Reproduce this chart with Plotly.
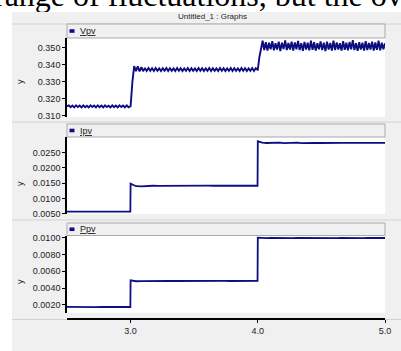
import plotly.graph_objects as go

W, H = 401, 351

# ---------------- data ----------------
caption_text = "range of fluctuations, but the overall"
chart_title = "Untitled_1 : Graphs"
series_names = ["Vpv", "Ipv", "Ppv"]
axis_title = "y"

x_range = [2.5, 5.0]
x_tick_vals = [3.0, 4.0, 5.0]
x_tick_text = ["3.0", "4.0", "5.0"]

# time span covered by each sampled segment
segment_bounds = [[2.5, 2.998], [3.0, 3.998], [4.0, 5.0]]

vpv_seg1 = [0.3156, 0.3162, 0.3151, 0.3161, 0.3150, 0.3162, 0.3152, 0.3161, 0.3150, 0.3162,
            0.3151, 0.3160, 0.3150, 0.3162, 0.3152, 0.3161, 0.3150, 0.3162, 0.3151, 0.3161,
            0.3150, 0.3162, 0.3152, 0.3160, 0.3150, 0.3162, 0.3151, 0.3161, 0.3150, 0.3162,
            0.3152, 0.3161, 0.3150, 0.3162, 0.3151, 0.3157]
vpv_seg2 = [0.3157, 0.3300, 0.3392, 0.3362, 0.3390, 0.3361, 0.3385, 0.3362, 0.3381, 0.3363,
            0.3380, 0.3364, 0.3379, 0.3363, 0.3380, 0.3364, 0.3378, 0.3363, 0.3379, 0.3364,
            0.3380, 0.3363, 0.3379, 0.3364, 0.3378, 0.3363, 0.3380, 0.3364, 0.3379, 0.3363,
            0.3378, 0.3364, 0.3380, 0.3363, 0.3379, 0.3364, 0.3378, 0.3363, 0.3380, 0.3364,
            0.3379, 0.3363, 0.3378, 0.3364, 0.3380, 0.3363, 0.3379, 0.3364, 0.3378, 0.3363,
            0.3380, 0.3364, 0.3379, 0.3363, 0.3378, 0.3364, 0.3380, 0.3363, 0.3379, 0.3364,
            0.3378, 0.3363, 0.3380, 0.3364, 0.3379, 0.3363, 0.3378, 0.3364, 0.3380, 0.3363,
            0.3379, 0.3370]
vpv_seg3 = [0.3370, 0.3445, 0.3505, 0.3540, 0.3486, 0.3532, 0.3482, 0.3528, 0.3490, 0.3538,
            0.3484, 0.3526, 0.3489, 0.3534, 0.3480, 0.3529, 0.3491, 0.3542, 0.3485, 0.3527,
            0.3488, 0.3535, 0.3483, 0.3530, 0.3490, 0.3539, 0.3486, 0.3525, 0.3481, 0.3533,
            0.3489, 0.3528, 0.3484, 0.3541, 0.3487, 0.3531, 0.3482, 0.3526, 0.3490, 0.3536,
            0.3485, 0.3529, 0.3479, 0.3534, 0.3488, 0.3527, 0.3483, 0.3540, 0.3486, 0.3530,
            0.3489, 0.3525, 0.3482, 0.3537, 0.3487, 0.3528, 0.3484, 0.3533, 0.3490, 0.3543,
            0.3485, 0.3526, 0.3481, 0.3531, 0.3488, 0.3529, 0.3483, 0.3538, 0.3486, 0.3527,
            0.3489, 0.3535, 0.3482, 0.3530, 0.3487, 0.3541, 0.3484, 0.3528, 0.3490, 0.3526]

ipv_seg1 = [0.00576, 0.00573, 0.00577, 0.00574, 0.00576, 0.00573, 0.00577, 0.00574,
            0.00576, 0.00573, 0.00577, 0.00575]
ipv_seg2 = [0.01490, 0.01405, 0.01400, 0.01418, 0.01420, 0.01418, 0.01421, 0.01419,
            0.01420, 0.01418, 0.01421, 0.01419, 0.01420, 0.01418, 0.01421, 0.01419,
            0.01420, 0.01418, 0.01421, 0.01419, 0.01420, 0.01418, 0.01421, 0.01420]
ipv_seg3 = [0.02870, 0.02825, 0.02815, 0.02822, 0.02810, 0.02825, 0.02812, 0.02823,
            0.02815, 0.02826, 0.02811, 0.02822, 0.02816, 0.02820, 0.02814, 0.02819,
            0.02816, 0.02818, 0.02815, 0.02819, 0.02816, 0.02818, 0.02815, 0.02818,
            0.02816, 0.02818, 0.02815, 0.02818, 0.02816, 0.02817]

ppv_seg1 = [0.00177, 0.00175, 0.00177, 0.00176, 0.00177, 0.00175, 0.00177, 0.00176,
            0.00177, 0.00175, 0.00177, 0.00176]
ppv_seg2 = [0.00492, 0.00482, 0.00484, 0.00486, 0.00485, 0.00486, 0.00485, 0.00486,
            0.00485, 0.00486, 0.00485, 0.00486, 0.00485, 0.00486, 0.00485, 0.00486,
            0.00485, 0.00486, 0.00485, 0.00486, 0.00485, 0.00486, 0.00485, 0.00486]
ppv_seg3 = [0.01000, 0.00994, 0.00995, 0.00997, 0.00995, 0.00996, 0.00995, 0.00997,
            0.00995, 0.00996, 0.00995, 0.00997, 0.00995, 0.00996, 0.00995, 0.00997,
            0.00995, 0.00996, 0.00995, 0.00997, 0.00995, 0.00996, 0.00995, 0.00997,
            0.00995, 0.00996, 0.00995, 0.00997, 0.00995, 0.00996]

vpv_ticks = [0.310, 0.320, 0.330, 0.340, 0.350]
ipv_ticks = [0.0050, 0.0100, 0.0150, 0.0200, 0.0250]
ppv_ticks = [0.0020, 0.0040, 0.0060, 0.0080, 0.0100]

vpv_range = [0.3094, 0.3556]
ipv_range = [0.00498, 0.0301]
ppv_range = [0.00108, 0.01026]

# ---------------- helpers ----------------
def px(x):
    return x / W

def py(y):
    return 1 - y / H

def build_series(segments):
    ts, vs = [], []
    for (t0, t1), vals in zip(segment_bounds, segments):
        n = len(vals)
        ts += [t0 + (t1 - t0) * i / (n - 1) for i in range(n)]
        vs += vals
    return ts, vs

LINE = "#0e0e82"
GRAY = "#f0f0f0"
EDGE = "#a9a9a9"
SEP = "#d2d2d2"
TXT = "#222222"
FONT = "Liberation Sans, Arial, sans-serif"

# panel pixel geometry: (plot top, plot bottom, legend top)
panels = [(38, 117, 24), (137, 214, 124), (235.5, 312.7, 223)]
y_label_pos = [82, 184, 282]

series = [build_series([vpv_seg1, vpv_seg2, vpv_seg3]),
          build_series([ipv_seg1, ipv_seg2, ipv_seg3]),
          build_series([ppv_seg1, ppv_seg2, ppv_seg3])]
ranges = [vpv_range, ipv_range, ppv_range]
ticks = [vpv_ticks, ipv_ticks, ppv_ticks]
formats = [".3f", ".4f", ".4f"]
widths = [1.9, 1.8, 1.8]

fig = go.Figure()

for i, (ts, vs) in enumerate(series):
    k = "" if i == 0 else str(i + 1)
    fig.add_trace(go.Scatter(x=ts, y=vs, mode="lines", name=series_names[i],
                             line=dict(color=LINE, width=widths[i]),
                             xaxis="x" + k, yaxis="y" + k, showlegend=False,
                             hoverinfo="skip"))

# caption of the surrounding document (cropped at top)
fig.add_trace(go.Scatter(x=[-6], y=[-2], mode="text", text=[caption_text],
                         textposition="middle right",
                         textfont=dict(family="Liberation Serif, Times New Roman, serif",
                                       size=32, color="#000000"),
                         xaxis="x4", yaxis="y4", showlegend=False, cliponaxis=True,
                         hoverinfo="skip"))

layout = dict(
    width=W, height=H,
    margin=dict(l=0, r=0, t=0, b=0, autoexpand=False),
    paper_bgcolor=GRAY, plot_bgcolor="#ffffff",
    showlegend=False,
    font=dict(family=FONT, size=9, color=TXT),
)

xdom = [px(67), px(385)]
for i in range(3):
    k = "" if i == 0 else str(i + 1)
    top, bot, _ = panels[i]
    ax = dict(domain=xdom, range=x_range, showgrid=False, zeroline=False,
              fixedrange=True, anchor="y" + k)
    if i < 2:
        ax.update(visible=False)
    else:
        ax.update(visible=True, anchor="free", position=py(319),
                  showline=True, linecolor="#000000", linewidth=1.6,
                  ticks="outside", ticklen=3, tickwidth=1, tickcolor="#000000",
                  tickvals=x_tick_vals, ticktext=x_tick_text,
                  tickfont=dict(size=9, color=TXT))
    layout["xaxis" + k] = ax
    layout["yaxis" + k] = dict(domain=[py(bot), py(top)], range=ranges[i],
                               showgrid=False, zeroline=False, fixedrange=True,
                               anchor="x" + k, showline=True, linecolor="#000000",
                               linewidth=1.6, ticks="outside", ticklen=3, tickwidth=1,
                               tickcolor="#000000", tickvals=ticks[i],
                               tickformat=formats[i], tickfont=dict(size=9, color=TXT))

layout["xaxis4"] = dict(domain=[0, 1], range=[0, W], visible=False, fixedrange=True,
                        anchor="y4")
layout["yaxis4"] = dict(domain=[py(12), 1], range=[12, 0], visible=False,
                        fixedrange=True, anchor="x4")

shapes = []
# white page outside the chart window
shapes.append(dict(type="rect", xref="paper", yref="paper", x0=0, x1=1, y0=py(12), y1=1,
                   fillcolor="#ffffff", line=dict(width=0), layer="below"))
shapes.append(dict(type="rect", xref="paper", yref="paper", x0=0, x1=px(12), y0=0, y1=1,
                   fillcolor="#ffffff", line=dict(width=0), layer="below"))
# separator lines
for yy in [24, 122, 220, 319.5]:
    shapes.append(dict(type="line", xref="paper", yref="paper", x0=px(12), x1=1,
                       y0=py(yy), y1=py(yy), line=dict(color=SEP, width=1), layer="below"))
annotations = []
for i in range(3):
    top, bot, ltop = panels[i]
    # legend box
    shapes.append(dict(type="rect", xref="paper", yref="paper", x0=px(67), x1=px(385),
                       y0=py(top), y1=py(ltop), fillcolor=GRAY,
                       line=dict(color=EDGE, width=1), layer="below"))
    cy = (top + ltop) / 2
    shapes.append(dict(type="rect", xref="paper", yref="paper", x0=px(69.5), x1=px(74.5),
                       y0=py(cy + 1.8), y1=py(cy - 1.8), fillcolor=LINE,
                       line=dict(width=0)))
    annotations.append(dict(x=px(78), y=py(cy), xref="paper", yref="paper",
                            xanchor="left", yanchor="middle", showarrow=False,
                            text="<u>" + series_names[i] + "</u>",
                            font=dict(size=9, color=TXT)))
    annotations.append(dict(x=px(20), y=py(y_label_pos[i]), xref="paper", yref="paper",
                            xanchor="center", yanchor="middle", showarrow=False,
                            text=axis_title, textangle=-90,
                            font=dict(size=9, color=TXT)))

annotations.append(dict(x=px(212), y=py(17), xref="paper", yref="paper",
                        xanchor="center", yanchor="middle", showarrow=False,
                        text=chart_title, font=dict(size=8, color=TXT)))

layout["shapes"] = shapes
layout["annotations"] = annotations
fig.update_layout(**layout)

fig.write_html("out.html", config={"displayModeBar": False},
               post_script="document.body.style.margin='0';document.body.style.overflow='hidden';")
